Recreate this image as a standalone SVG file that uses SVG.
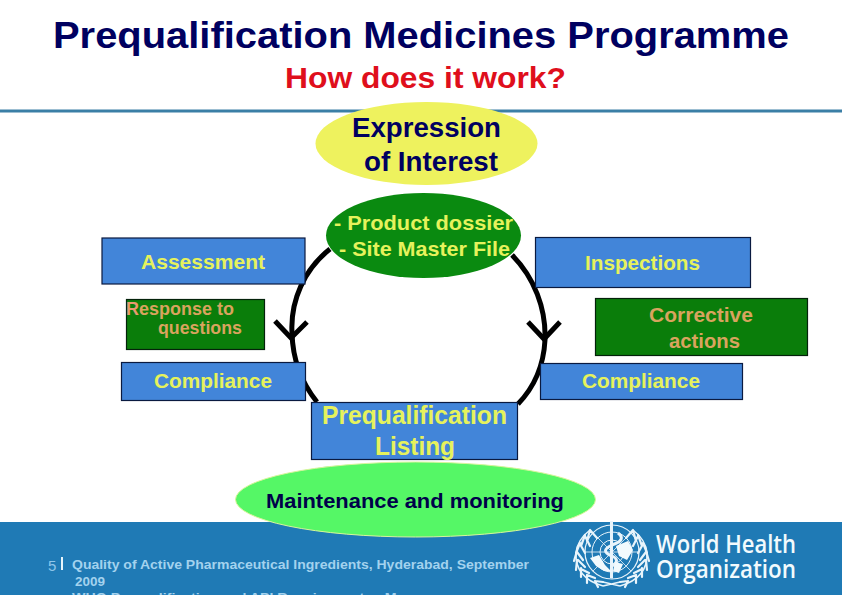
<svg xmlns="http://www.w3.org/2000/svg" width="842" height="595" viewBox="0 0 842 595">
<style>
text{font-family:"Liberation Sans",Arial,sans-serif;font-weight:bold}
.blue{fill:#4285d9;stroke:#0a1a40;stroke-width:1.2}
.dkg{fill:#0a7d0a;stroke:#04220a;stroke-width:1.2}
.y{fill:#e6f25c}
.o{fill:#d8a45e}
.n{fill:#000060}
.f{fill:#a3d2ee;font-size:13.500px}
.conn{fill:none;stroke:#000;stroke-width:5;stroke-linejoin:miter}
.lg{fill:none;stroke:#e8f4fb}
.org{font-family:"Open Sans","Liberation Sans",sans-serif;font-weight:600;font-size:26px;fill:#f2fafd}
</style>
<defs>
<g id="wreath-half">
<path class="lg" stroke-width="1.500" d="M603 586Q575 578 576 553Q577 540 590 530"/>
<path class="lg" stroke-width="2.200" stroke-linecap="round" d="M590 530L587 541M590 530L597 538M585 535L581 546M585 536L590 546M580 543L576 553M580 544L585 553M577 551L574 561M577 552L583 560M577 560L576 570M578 560L585 567M581 568L581 577M581 569L589 573M587 575L587 583M587 575L595 578M595 581L598 587M595 581L603 582"/>
</g>
</defs>
<rect id="background" width="842" height="595" fill="#fff"/>
<rect id="footer-band" x="0" y="522" width="842" height="73" fill="#1f7ab5"/>
<rect id="header-rule" x="0" y="109.500" width="842" height="3" fill="#3b7fa6"/>
<g id="title">
<text x="53" y="48" font-size="37" class="n" textLength="736" lengthAdjust="spacingAndGlyphs">Prequalification Medicines Programme</text>
<text x="285" y="88" font-size="29.500" fill="#df0f1c" textLength="281" lengthAdjust="spacingAndGlyphs">How does it work?</text>
</g>
<g id="connectors">
<path class="conn" d="M330 249A100 100 0 0 0 292 333Q293 372 317 402"/>
<path class="conn" d="M512 255A115 115 0 0 1 545 340Q543 378 518 404"/>
<path class="conn" d="M275 321L291 338L307 322"/>
<path class="conn" d="M528 322L544 339L560 322"/>
</g>
<g id="node-expression">
<ellipse cx="426.500" cy="143.500" rx="111" ry="41.500" fill="#eef25e"/>
<text x="352" y="137" font-size="27" class="n" textLength="149" lengthAdjust="spacingAndGlyphs">Expression</text>
<text x="364" y="171" font-size="27" class="n" textLength="134" lengthAdjust="spacingAndGlyphs">of Interest</text>
</g>
<g id="node-dossier">
<ellipse cx="423.500" cy="235.500" rx="97.500" ry="42.500" fill="#0a8a10"/>
<text x="334" y="230" font-size="20.500" class="y" textLength="179" lengthAdjust="spacingAndGlyphs">- Product dossier</text>
<text x="339" y="256" font-size="20.500" class="y" textLength="171" lengthAdjust="spacingAndGlyphs">- Site Master File</text>
</g>
<g id="node-assessment">
<rect class="blue" x="102" y="238" width="203" height="46"/>
<text x="141" y="269" font-size="20" class="y" textLength="124" lengthAdjust="spacingAndGlyphs">Assessment</text>
</g>
<g id="node-response">
<rect class="dkg" x="126.500" y="299.500" width="138" height="50"/>
<text x="126" y="315" font-size="18" class="o" textLength="108" lengthAdjust="spacingAndGlyphs"><tspan fill="#e89a70">R</tspan>esponse to</text>
<text x="158" y="334" font-size="18" class="o" textLength="84" lengthAdjust="spacingAndGlyphs">questions</text>
</g>
<g id="node-compliance-left">
<rect class="blue" x="121.500" y="362.500" width="184" height="38"/>
<text x="154" y="388" font-size="20.500" class="y" textLength="118" lengthAdjust="spacingAndGlyphs">Compliance</text>
</g>
<g id="node-inspections">
<rect class="blue" x="535.500" y="237.500" width="215" height="50"/>
<text x="585" y="270" font-size="20.500" class="y" textLength="115" lengthAdjust="spacingAndGlyphs">Inspections</text>
</g>
<g id="node-corrective">
<rect class="dkg" x="595.500" y="298.500" width="212" height="57"/>
<text x="649" y="322" font-size="21" class="o" textLength="104" lengthAdjust="spacingAndGlyphs">Corrective</text>
<text x="669" y="348" font-size="21" class="o" textLength="71" lengthAdjust="spacingAndGlyphs">actions</text>
</g>
<g id="node-compliance-right">
<rect class="blue" x="540.500" y="363.500" width="202" height="36"/>
<text x="582" y="388" font-size="20.500" class="y" textLength="118" lengthAdjust="spacingAndGlyphs">Compliance</text>
</g>
<g id="node-listing">
<rect class="blue" x="311.500" y="402.500" width="206" height="57"/>
<text x="322" y="424" font-size="25" class="y" textLength="185" lengthAdjust="spacingAndGlyphs">Prequalification</text>
<text x="375" y="455" font-size="25" class="y" textLength="80" lengthAdjust="spacingAndGlyphs">Listing</text>
</g>
<g id="node-maintenance">
<ellipse cx="415.500" cy="499.500" rx="180" ry="37.500" fill="#55f766" stroke="#d8f59a" stroke-width="1"/>
<text x="266" y="508" font-size="21" fill="#00004a" textLength="298" lengthAdjust="spacingAndGlyphs">Maintenance and monitoring</text>
</g>
<g id="footer-text">
<text x="48" y="571" font-size="15" fill="#8fc6ea" style="font-weight:normal">5</text>
<rect x="61" y="557" width="2" height="13" fill="#e6f4fb"/>
<text x="72" y="569" class="f" textLength="457" lengthAdjust="spacingAndGlyphs">Quality of Active Pharmaceutical Ingredients, Hyderabad, September</text>
<text x="75" y="586" class="f" textLength="30" lengthAdjust="spacingAndGlyphs">2009</text>
<text x="72" y="602" class="f" textLength="330" lengthAdjust="spacingAndGlyphs">WHO Prequalification and API Requirements - Mr</text>
</g>
<g id="who-logo">
<use href="#wreath-half"/>
<use href="#wreath-half" transform="matrix(-1 0 0 1 1223 0)"/>
<path class="lg" stroke-width="1.500" d="M603 586L620 582M620 586L603 582"/>
<circle class="lg" cx="612" cy="552" r="27" stroke-width="1.200"/>
<circle class="lg" cx="612" cy="552" r="20" stroke-width="1"/>
<circle class="lg" cx="612" cy="552" r="12" stroke-width="1"/>
<path class="lg" stroke-width=".8" d="M585 552H639M612 525V579M593 533L631 571M631 533L593 571"/>
<path class="lg" stroke-width="3" d="M611.500 521V578"/>
<path class="lg" stroke-width="3" d="M618 533Q627 540 612 545Q599 551 612 556Q621 560 612 566"/>
<path fill="#f2fafd" d="M590 558L599 555L605 565L612 572L604 571L596 566ZM616 546L628 541L633 550L627 560L619 556ZM615 562L623 564L619 573L613 571Z"/>
<text class="org" x="656" y="553" textLength="140" lengthAdjust="spacingAndGlyphs">World Health</text>
<text class="org" x="656" y="578" textLength="140" lengthAdjust="spacingAndGlyphs">Organization</text>
</g>
</svg>
